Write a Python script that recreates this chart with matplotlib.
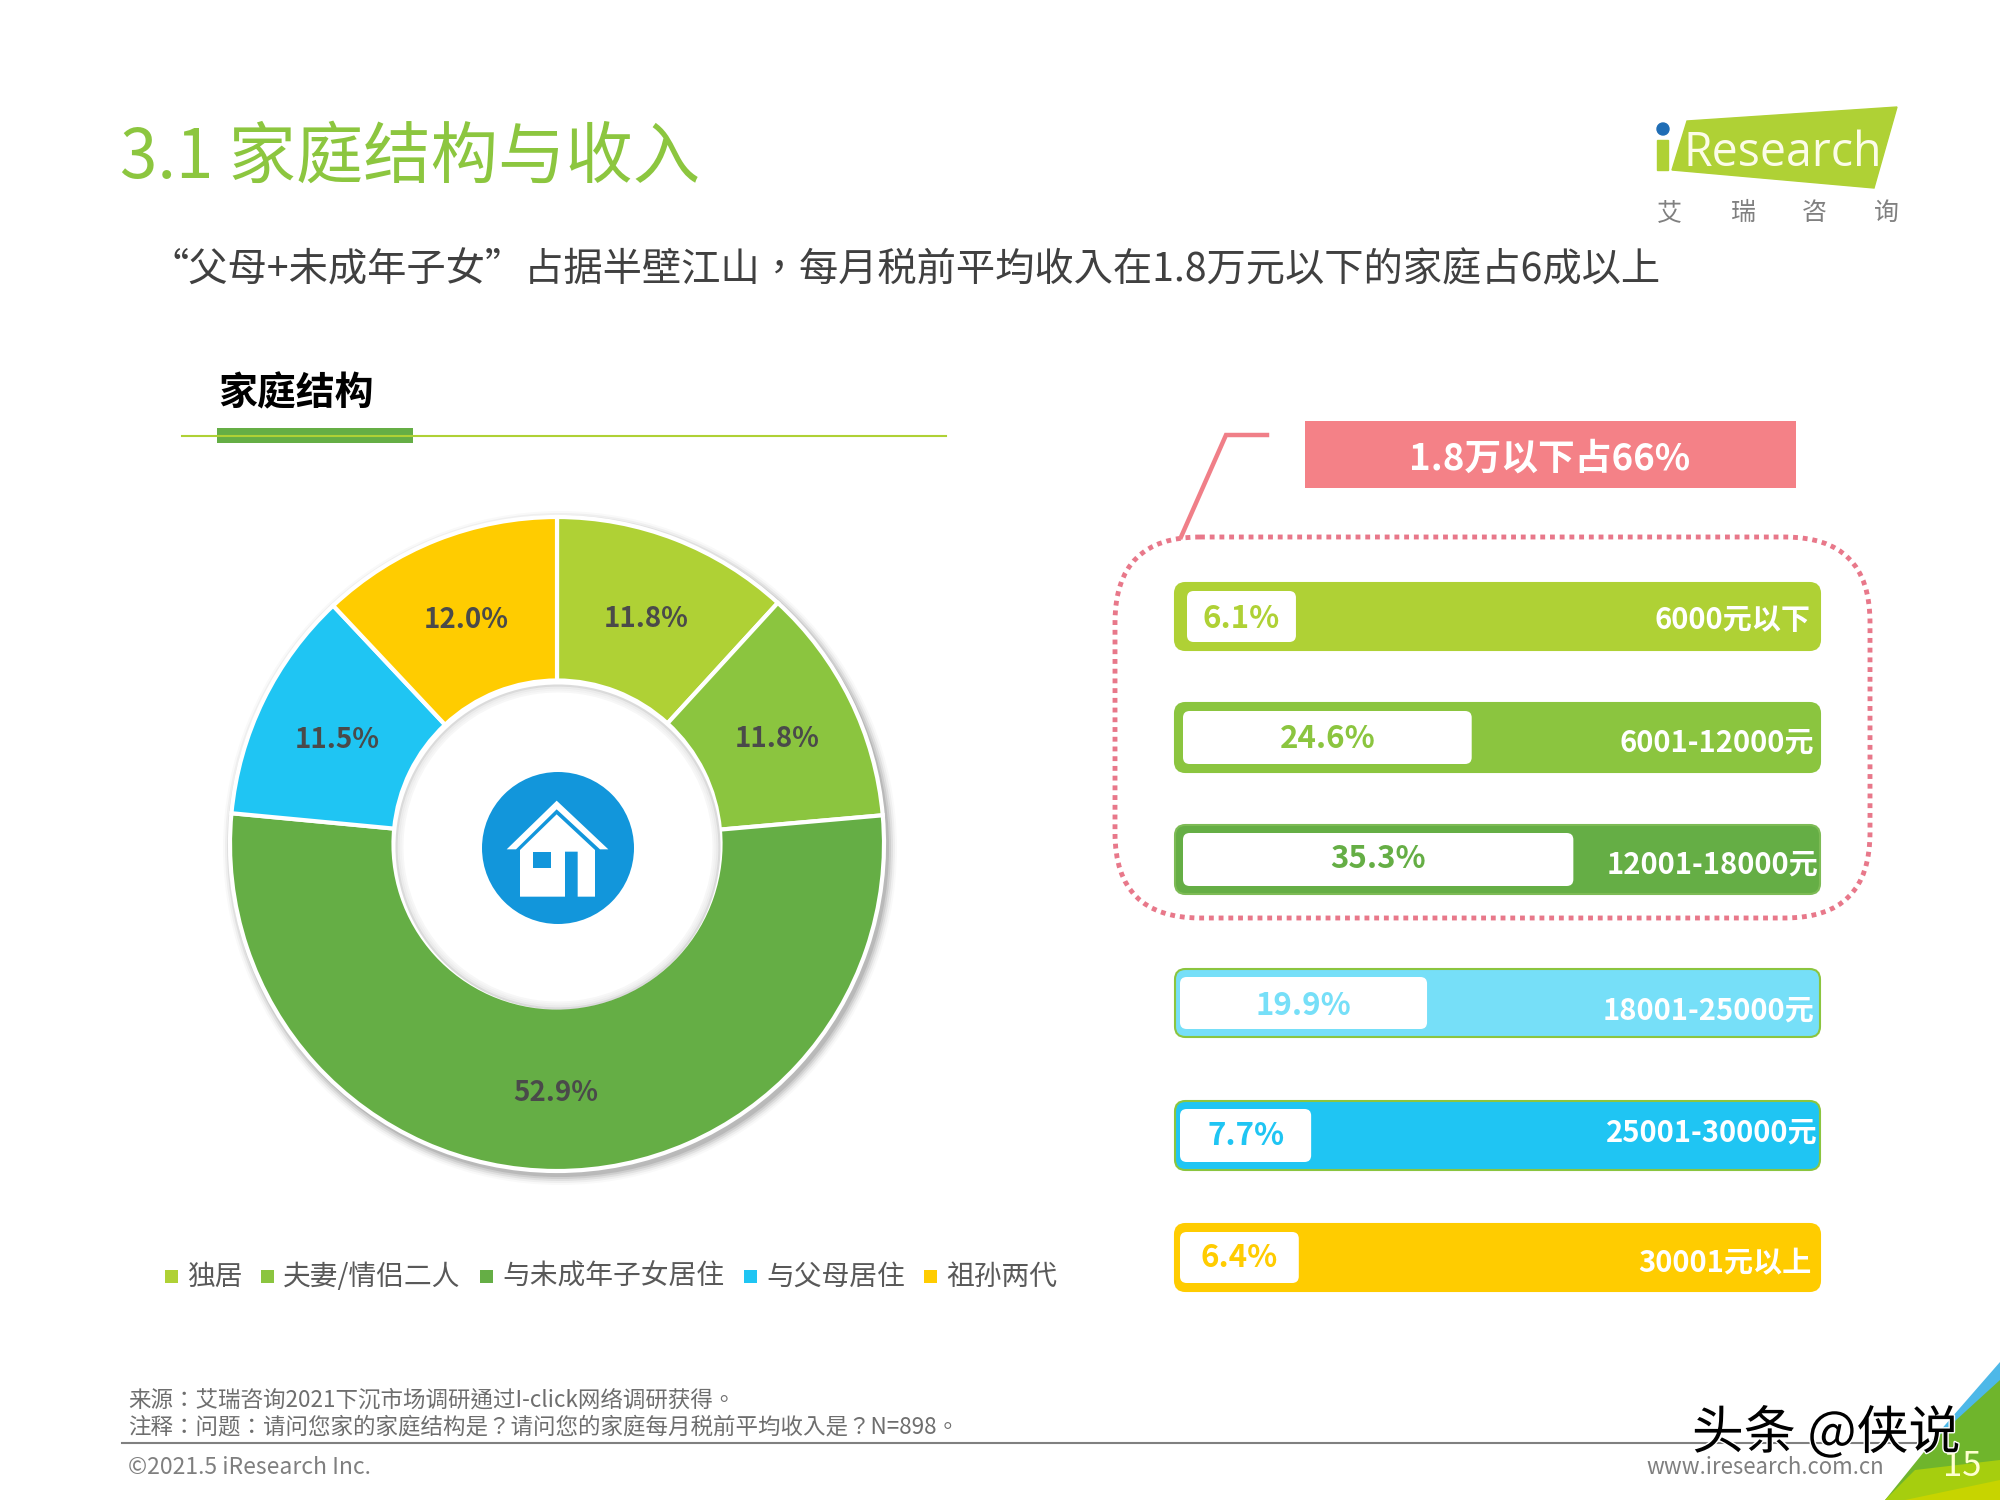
import matplotlib
matplotlib.use("Agg")
import matplotlib.pyplot as plt
import matplotlib.patheffects as pe
from matplotlib.patches import Circle, FancyBboxPatch, Polygon, Rectangle

plt.rcParams['font.family'] = ['Noto Sans CJK SC', 'DejaVu Sans']
TC = ['Noto Sans CJK TC', 'DejaVu Sans']  # centred punctuation

# family structure
family_labels = ['独居', '夫妻/情侣二人', '与未成年子女居住', '与父母居住', '祖孙两代']
family_values = [11.8, 11.8, 52.9, 11.5, 12.0]
family_colors = ['#AFD135', '#8BC53F', '#65AE45', '#1FC5F3', '#FFCC00']

# income
income_labels = ['6000元以下', '6001-12000元', '12001-18000元', '18001-25000元', '25001-30000元', '30001元以上']
income_values = [6.1, 24.6, 35.3, 19.9, 7.7, 6.4]
income_colors = ['#AFD135', '#8BC53F', '#65AE45', '#76DFF8', '#1FC5F3', '#FFCC00']
income_edges = ['#AFD135', '#8BC53F', '#7DBB55', '#8BC53F', '#8BC53F', '#FFCC00']

# layout, in pixels of the 2000x1500 page
row_top = [583, 703, 825, 969, 1101, 1224]
row_height = [67, 69, 69, 68, 69, 67]
pill_left = [1187, 1183, 1183, 1180, 1180, 1180]
value_y = [619, 739, 859, 1006, 1136, 1258]
label_y = [620, 742, 864, 1010, 1132, 1263]
label_right = [1811, 1814, 1818, 1814, 1818, 1811]
legend_x = [172, 268, 487, 751, 931]
PCT_PX = 9.5  # pixels per percent on the white bars
X0 = 1238  # page pixel of 0%

fig = plt.figure(figsize=(20, 15), dpi=100, facecolor='white')

ax = fig.add_axes([0, 0, 1, 1], zorder=0)
ax.set_xlim(0, 2000)
ax.set_ylim(1500, 0)
ax.axis('off')

# header
ax.text(120, 159, '3.1 家庭结构与收入', fontsize=48.5, color='#8CC63F', va='center')
ax.text(149, 270, '“父母+未成年子女”占据半壁江山，每月税前平均收入在1.8万元以下的家庭占6成以上',
        fontsize=28.3, color='#404040', va='center', family=TC)
ax.text(218, 394, '家庭结构', fontsize=28, fontweight='bold', color='black', va='center')
ax.plot([182, 946], [436, 436], color='#AFD135', lw=1.5)
ax.add_patch(Rectangle((217, 428), 196, 15, color='#65AE45', lw=0))

# logo
ax.add_patch(Polygon([(1687, 121), (1897, 107), (1874, 188), (1672, 170)], color='#AFD135'))
ax.add_patch(Rectangle((1657, 140), 11, 30, color='#AFD135'))
ax.add_patch(Circle((1663, 129), 6, color='#1F6DB5'))
ax.text(1683, 153, 'Research', fontsize=33.5, color='#FCFCE8', va='center', family=['Open Sans', 'DejaVu Sans'])
for x, ch in zip([1669, 1743, 1814, 1886], '艾瑞咨询'):
    ax.text(x, 213, ch, fontsize=18, color='#808080', ha='center', va='center')

# pie shadow, drawn under the wedges
CX, CY, R = 557, 844, 327
for grow, alpha in [(10, 0.025), (8, 0.04), (6, 0.06), (4, 0.08), (2, 0.10)]:
    ax.add_patch(Circle((CX + 3, CY + 4), R + grow, color='black', alpha=alpha, lw=0))
ax.add_patch(Circle((CX, CY), R + 1, color='white', lw=0))

ax_pie = fig.add_axes([(CX - 1.1 * R) / 2000, 1 - (CY + 1.1 * R) / 1500, 2.2 * R / 2000, 2.2 * R / 1500],
                      zorder=1)
ax_pie.patch.set_alpha(0)
wedges, _, pct_texts = ax_pie.pie(family_values, colors=family_colors, startangle=90, counterclock=False, radius=1,
                                  autopct='%.1f%%', pctdistance=0.75,
                                  wedgeprops={'width': 0.5, 'edgecolor': 'white', 'linewidth': 3},
                                  textprops={'fontsize': 20, 'fontweight': 'bold', 'color': '#4A4A4A'})
for t in pct_texts:
    t.set_y(t.get_position()[1] - 0.012)
ax_pie.set_xlim(-1.1, 1.1)
ax_pie.set_ylim(-1.1, 1.1)

# inner rim shadow
ax_top = fig.add_axes([0, 0, 1, 1], zorder=2)
ax_top.set_xlim(0, 2000)
ax_top.set_ylim(1500, 0)
ax_top.axis('off')
for shrink, alpha in [(2, 0.14), (4, 0.08), (6, 0.05), (8, 0.03)]:
    ax_top.add_patch(Circle((CX + 1, CY + 3), 0.5 * R - shrink, fill=False, edgecolor='black', alpha=alpha, lw=1.5))

# house icon
ax_top.add_patch(Circle((558, 848), 76, color='#1296DB', lw=0))


def ic(x, y):
    return 430 + x / 3, 730 + y / 3


ax_top.add_patch(Polygon([ic(*p) for p in [(230, 358), (380, 212), (535, 358), (510, 358), (380, 238), (258, 358)]],
                         color='white', lw=0))
ax_top.add_patch(Polygon([ic(*p) for p in [(270, 500), (270, 360), (380, 253), (495, 360), (495, 500),
                                           (443, 500), (443, 365), (405, 365), (405, 500)]], color='white', lw=0))
ax_top.add_patch(Rectangle(ic(310, 365), 52 / 3, 48 / 3, color='#1296DB', lw=0))

# legend
for x, label, color in zip(legend_x, family_labels, family_colors):
    ax.add_patch(Rectangle((x - 7, 1270), 13, 13, color=color, lw=0))
    ax.text(x + 15, 1277, label, fontsize=20, color='#595959', va='center')

# income bars, x axis in percent, y axis in page pixels
ax_bar = fig.add_axes([1100 / 2000, 0, 800 / 2000, 1], zorder=1)
ax_bar.patch.set_alpha(0)
ax_bar.set_xlim((1100 - X0) / PCT_PX, (1900 - X0) / PCT_PX)
ax_bar.set_ylim(1500, 0)
ax_bar.axis('off')

left_end = (1175 - X0) / PCT_PX
right_end = (1820 - X0) / PCT_PX
centers = [t + h / 2 for t, h in zip(row_top, row_height)]
bars = ax_bar.barh(centers, income_values, height=[h - 16 for h in row_height], color='white')

for i, bar in enumerate(bars):
    x, y, w, h = bar.get_x(), bar.get_y(), bar.get_width(), bar.get_height()
    bar.remove()
    outer = FancyBboxPatch((left_end, row_top[i]), right_end - left_end, row_height[i],
                           boxstyle='round,pad=0,rounding_size=1.1', mutation_aspect=PCT_PX,
                           facecolor=income_colors[i], edgecolor=income_edges[i], lw=1.5)
    ax_bar.add_patch(outer)
    start = (pill_left[i] - X0) / PCT_PX
    pill = FancyBboxPatch((start, y), w - start, h,
                          boxstyle='round,pad=0,rounding_size=0.7', mutation_aspect=PCT_PX,
                          facecolor='white', edgecolor='none', zorder=3)
    ax_bar.add_patch(pill)
    ax_bar.text((start + w) / 2, value_y[i], f'{income_values[i]}%', fontsize=22.5, fontweight='bold',
                color=income_colors[i], ha='center', va='center', zorder=4)
    ax_bar.text((label_right[i] - X0) / PCT_PX, label_y[i], income_labels[i], fontsize=21, fontweight='bold',
                color='white', ha='right', va='center', zorder=4)

# 66% callout
ax.add_patch(FancyBboxPatch((1115, 537), 755, 381, boxstyle='round,pad=0,rounding_size=85',
                            fill=False, edgecolor='#E8788A', lw=3.5, linestyle=(0, (1, 1))))
ax.plot([1181, 1226, 1267], [537, 435, 435], color='#F07F88', lw=3.2, solid_joinstyle='miter')
ax.add_patch(Rectangle((1305, 421), 491, 67, color='#F48187', lw=0))
ax.text(1550, 459, '1.8万以下占66%', fontsize=26.5, fontweight='bold', color='white', ha='center', va='center')

# footer
ax.text(128, 1400, '来源：艾瑞咨询2021下沉市场调研通过I-click网络调研获得。', fontsize=16.2, color='#6E6E6E', va='center', family=TC)
ax.text(128, 1427, '注释：问题：请问您家的家庭结构是？请问您的家庭每月税前平均收入是？N=898。', fontsize=16.2, color='#6E6E6E', va='center', family=TC)
ax.plot([122, 1925], [1443, 1443], color='#808080', lw=1.5)
ax.text(128, 1467, '©2021.5 iResearch Inc.', fontsize=16.5, color='#7F7F7F', va='center')
ax.text(1884, 1467, 'www.iresearch.com.cn', fontsize=16, color='#7F7F7F', ha='right', va='center')

# corner triangles
ax.add_patch(Polygon([(2000, 1362), (2000, 1382), (1940, 1450), (1932, 1440)], color='#4DB8E8', lw=0))
ax.add_patch(Polygon([(2000, 1380), (2000, 1500), (1885, 1500), (1932, 1442)], color='#6FB52C', lw=0))
ax.add_patch(Polygon([(2000, 1460), (2000, 1500), (1885, 1500), (1915, 1470)], color='#A6CE0E', lw=0))
ax.add_patch(Polygon([(2000, 1480), (2000, 1500), (1905, 1500)], color='#C7D400', lw=0))
ax.text(1962, 1466, '15', fontsize=25, color='#FFFFD0', ha='center', va='center')

# watermark
wm = ax.text(1826, 1434, '头条 @侠说', fontsize=37.4, color='black', ha='center', va='center', zorder=6)
wm.set_path_effects([pe.withStroke(linewidth=2, foreground='white')])

fig.savefig('out.png', dpi=100, facecolor='white')
